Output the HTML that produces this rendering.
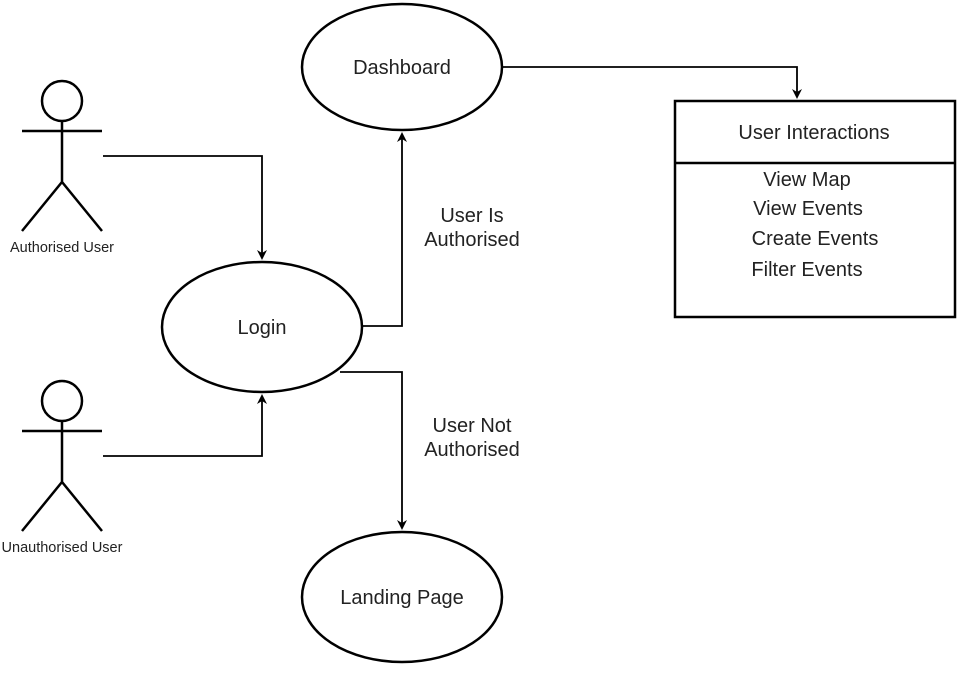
<!DOCTYPE html>
<html><head><style>body{margin:0;background:#fff}svg{display:block}</style></head><body>
<svg width="967" height="674" viewBox="0 0 967 674" xmlns="http://www.w3.org/2000/svg" font-family="'Liberation Sans', Arial, sans-serif">
<defs><marker id="a" markerWidth="10" markerHeight="10" refX="5" refY="5" orient="auto" markerUnits="userSpaceOnUse"><path d="M0,0 L10,5 L0,10 L3,5 z" fill="#000"/></marker></defs>
<g fill="#fff" stroke="#000" stroke-width="2.5">
<ellipse cx="402" cy="67" rx="100" ry="63"/>
<ellipse cx="262" cy="327" rx="100" ry="65"/>
<ellipse cx="402" cy="597" rx="100" ry="65"/>
<rect x="675" y="101" width="280" height="216"/>
<line x1="675" y1="163" x2="955" y2="163"/>
<circle cx="62" cy="101" r="20"/>
<path d="M62 121V182M22 131H102M22 231L62 182L102 231" fill="none"/>
<circle cx="62" cy="401" r="20"/>
<path d="M62 421V482M22 431H102M22 531L62 482L102 531" fill="none"/>
</g>
<g fill="none" stroke="#000" stroke-width="1.8">
<path d="M103 156H262V255" marker-end="url(#a)"/>
<path d="M103 456H262V399" marker-end="url(#a)"/>
<path d="M362 326H402V137" marker-end="url(#a)"/>
<path d="M340 372H402V525" marker-end="url(#a)"/>
<path d="M502 67H797V94" marker-end="url(#a)"/>
</g>
<g font-size="20" fill="#222" text-anchor="middle">
<text x="402" y="74">Dashboard</text>
<text x="262" y="334">Login</text>
<text x="402" y="604">Landing Page</text>
<text x="814" y="139">User Interactions</text>
<text x="807" y="186">View Map</text>
<text x="808" y="215">View Events</text>
<text x="815" y="245">Create Events</text>
<text x="807" y="276">Filter Events</text>
<text x="472" y="222">User Is</text>
<text x="472" y="246">Authorised</text>
<text x="472" y="432">User Not</text>
<text x="472" y="456">Authorised</text>
</g>
<g font-size="14.5" fill="#222" text-anchor="middle">
<text x="62" y="252">Authorised User</text>
<text x="62" y="552">Unauthorised User</text>
</g>
</svg>
</body></html>
